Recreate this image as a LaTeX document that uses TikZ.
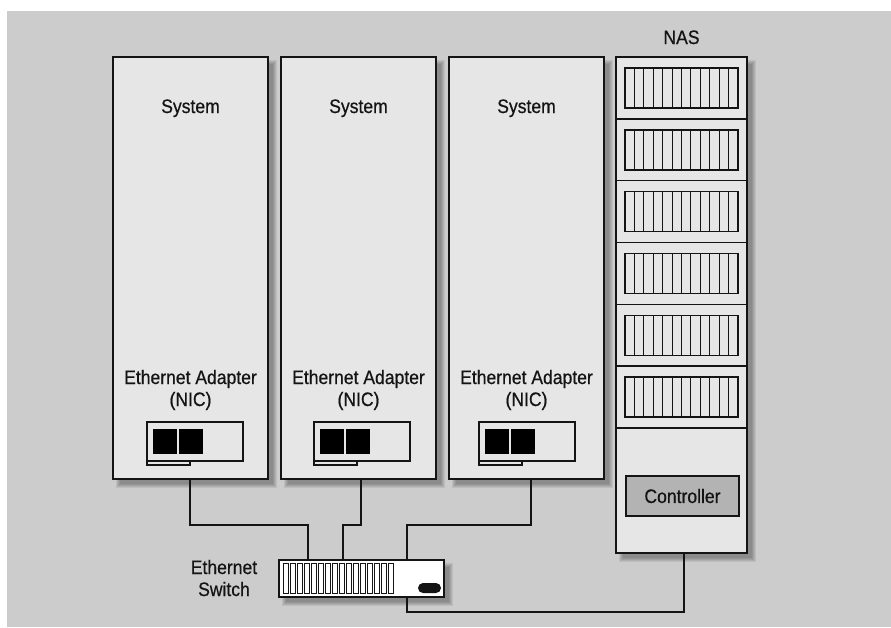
\documentclass[tikz,border=0pt]{standalone}
\usepackage{fontspec}
\setmainfont{Liberation Sans}[FakeStretch=0.9,FakeBold=0.6]
\usetikzlibrary{calc}
\definecolor{bg}{HTML}{CCCCCC}
\definecolor{boxfill}{HTML}{E6E6E6}
\definecolor{ink}{HTML}{141414}
\definecolor{ctrlfill}{HTML}{B3B3B3}
\newcommand\myshadow[4]{%
  \foreach \k in {0,...,4}{\fill[black,opacity=0.07] (#1+3+\k,#2+3+\k) rectangle (#3+9-\k,#4+9-\k);}}
\begin{document}
\begin{tikzpicture}[x=1pt,y=-1pt,
  box/.style={draw=ink,line width=2.2pt,fill=boxfill,rectangle,inner sep=0pt,outer sep=0pt,anchor=north west},
  card/.style={draw=ink,line width=1.6pt,fill=boxfill,rectangle,inner sep=0pt,outer sep=0pt,anchor=north west},
  drive/.style={draw=ink,line width=1.6pt,rectangle,inner sep=0pt,outer sep=0pt,anchor=north west,minimum width=113pt,minimum height=40pt},
  lbl/.style={font=\fontsize{19.5}{22}\selectfont,text=ink,inner sep=0pt,anchor=base},
  conn/.style={draw=ink,line width=1.7pt},
  slat/.style={draw=ink,line width=1.1pt},
  vent/.style={draw=ink,line width=0.8pt,fill=white}]
\useasboundingbox (0,0) rectangle (891,627);
\fill[white] (0,0) rectangle (891,627);
\fill[bg] (7,11) rectangle (891,627);
% shadows
\myshadow{113}{57}{268}{479}
\myshadow{281}{57}{436}{479}
\myshadow{449}{57}{604}{479}
\myshadow{616}{57}{747}{553}
\myshadow{279}{560}{444}{597}
% systems
\node[box,minimum width=155pt,minimum height=422pt] (sys1) at (113,57) {};
\node[box,minimum width=155pt,minimum height=422pt] (sys2) at (281,57) {};
\node[box,minimum width=155pt,minimum height=422pt] (sys3) at (449,57) {};
\foreach \cx/\n in {190.5/1,358.5/2,526.5/3}{
  \node[lbl] (systxt\n) at (\cx,113) {System};
  \node[lbl] (ethtxt\n) at (\cx,384) {Ethernet Adapter};
  \node[lbl] (nictxt\n) at (\cx,406) {(NIC)};
}
% NIC cards
\foreach \sx/\n in {147/1,314/2,479/3}{
  \node[card,minimum width=96pt,minimum height=39pt] (nic\n) at (\sx,422) {};
  \fill[black] (\sx+6,429) rectangle (\sx+30,454);
  \fill[black] (\sx+32,429) rectangle (\sx+56,454);
  \node[card,line width=1.3pt,minimum width=43pt,minimum height=4pt] (tab\n) at (\sx,461) {};
}
% NAS
\node[box,minimum width=131pt,minimum height=496pt] (nas) at (616,57) {};
\node[lbl] (nastxt) at (681.5,44) {NAS};
\foreach \i in {0,...,5}{
  \pgfmathsetmacro\tp{57+\i*61.83}
  \node[drive] (drive\i) at (625,\tp+11) {};
  \foreach \j in {1,...,11}{\draw[slat] (625+\j*113/12,\tp+11) -- ++(0,40);}
  \draw[ink,line width=1.6pt] (616,\tp+61.83) -- (747,\tp+61.83);
}
\node[box,line width=1.6pt,fill=ctrlfill,minimum width=113pt,minimum height=40pt] (ctrl) at (626,476) {};
\node[lbl,anchor=center] (ctrltxt) at (ctrl.center) {Controller};
% switch
\node[box,fill=white,minimum width=165pt,minimum height=37pt] (switch) at (279,560) {};
\foreach \j in {0,...,15}{\draw[vent] (283.5+\j*7,563.5) rectangle ++(5,30);}
\fill[ink,rounded corners=5pt] (418,583) rectangle (441,593);
\node[lbl] (swtxt1) at (224,574) {Ethernet};
\node[lbl] (swtxt2) at (224,596) {Switch};
% connector coordinates
\coordinate (s1out) at (190.3,479);
\coordinate (s2out) at (361,479);
\coordinate (s3out) at (530.7,479);
\coordinate (sw1) at (308,560);
\coordinate (sw2) at (343,560);
\coordinate (sw3) at (407,560);
\coordinate (sw4) at (407,597);
\coordinate (nasin) at (684,553);
\draw[conn] (s1out) -- ++(0,46) -| (sw1);
\draw[conn] (s2out) -- ++(0,46) -| (sw2);
\draw[conn] (s3out) -- ++(0,46) -| (sw3);
\draw[conn] (sw4) -- ++(0,15) -| (nasin);
\end{tikzpicture}
\end{document}
